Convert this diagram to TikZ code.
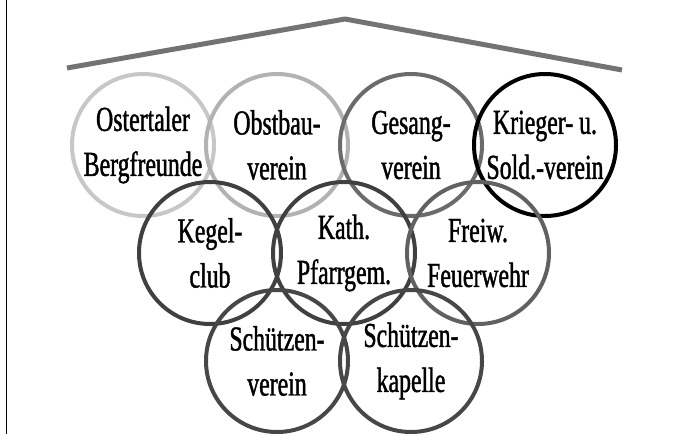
\documentclass[tikz,border=0pt]{standalone}
\usepackage{fontspec}
\newfontfamily\clubfont{Liberation Serif}[FakeStretch=0.68, FakeBold=1.2]
\usetikzlibrary{positioning, calc}

\begin{document}
\begin{tikzpicture}[
  x=1pt, y=-1pt,
  ring/.style={circle, draw=#1, line width=4pt, minimum size=142pt, inner sep=0pt, outer sep=0pt},
  club/.style={align=center, font=\clubfont\fontsize{35}{45}\selectfont, text=black},
  roof/.style={draw=black!55, line width=5pt, line join=round},
  node distance=-8pt
]
\useasboundingbox (0,0) rectangle (682,434);

% Frame line and roof
\coordinate (frameT) at (6.5,0);
\coordinate (frameB) at (6.5,434);
\draw[line width=1.6pt] (frameT) -- (frameB);
\coordinate (roofL) at (67,68);
\coordinate (roofTop) at (345,19);
\coordinate (roofR) at (622,70);
\draw[roof] (roofL) -- (roofTop) -- (roofR);

% Row 1
\node[ring=black!22] (ost) at (143,145) {};
\node[ring=black!30, right=of ost] (obst) {};
\node[ring=black!58, right=of obst] (ges) {};
\node[ring=black, right=of ges] (krieg) {};

% Row 2
\node[ring=black!75] (kegel) at ($(ost)!0.5!(obst)+(0,108)$) {};
\node[ring=black!75, right=of kegel] (kath) {};
\node[ring=black!62, right=of kath] (freiw) {};

% Row 3
\node[ring=black!72] (svere) at ($(kegel)!0.5!(kath)+(0,108)$) {};
\node[ring=black!72, right=of svere] (skap) {};

% Club names
\node[club] (ostT) at (ost) {Ostertaler\\Bergfreunde};
\node[club] (obstT) at (obst) {Obstbau-\\verein};
\node[club] (gesT) at (ges) {Gesang-\\verein};
\node[club] (kriegT) at (krieg) {Krieger- u.\\Sold.-verein};
\node[club] (kegelT) at (kegel) {Kegel-\\club};
\node[club] (kathT) at (kath) {Kath.\\Pfarrgem.};
\node[club] (freiwT) at (freiw) {Freiw.\\Feuerwehr};
\node[club] (svereT) at (svere) {Schützen-\\verein};
\node[club] (skapT) at (skap) {Schützen-\\kapelle};
\end{tikzpicture}
\end{document}
